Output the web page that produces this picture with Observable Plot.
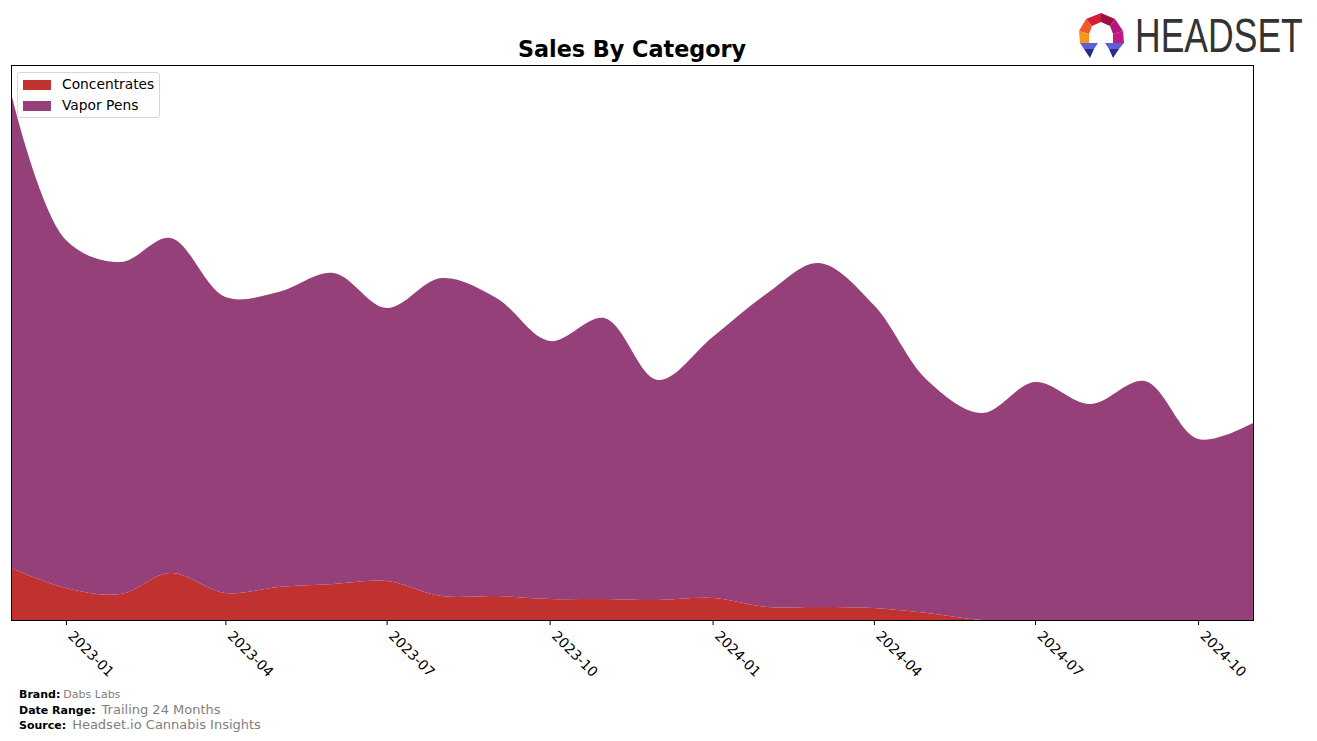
<!DOCTYPE html>
<html><head><meta charset="utf-8">
<script src="https://cdn.jsdelivr.net/npm/d3@7"></script>
<script src="https://cdn.jsdelivr.net/npm/@observablehq/plot@0.6"></script>
<style>
body{margin:0;background:#fff;font-family:"DejaVu Sans",sans-serif;}
#wrap{position:relative;width:1317px;height:741px;overflow:hidden;}
#chart{position:absolute;left:0;top:0;}
#title{position:absolute;left:0;width:1264px;top:36px;text-align:center;font-weight:bold;font-size:22.3px;color:#000;}
#legend{position:absolute;left:17px;top:72px;width:143px;height:46px;background:rgba(255,255,255,0.85);border:1px solid #d6d6d6;border-radius:3px;box-sizing:border-box;}
.li{position:absolute;left:5px;height:16px;font-size:13.8px;color:#000;}
.sw{position:absolute;left:0;top:2px;width:28px;height:10px;}
.lt{position:absolute;left:39px;top:-2px;white-space:nowrap;}
#footer{position:absolute;left:19px;top:688px;font-size:11px;line-height:14.5px;}
#footer b{color:#000;}
#footer span{color:#808080;margin-left:6px;}
#logo{position:absolute;left:1075px;top:10px;}
#logotext{position:absolute;left:1135px;top:10px;font-family:"Liberation Sans",Arial,sans-serif;font-size:48px;line-height:52px;color:#333;white-space:nowrap;transform:scaleX(0.74);transform-origin:0 0;}
</style></head><body>
<div id="wrap">
 <div id="chart"></div>
 <div id="title">Sales By Category</div>
 <div id="legend"></div>
 <div id="footer">
  <div><b>Brand:</b><span style="font-size:11px;margin-left:3px">Dabs Labs</span></div>
  <div><b>Date Range:</b><span style="font-size:13px">Trailing 24 Months</span></div>
  <div><b>Source:</b><span style="font-size:13px">Headset.io Cannabis Insights</span></div>
 </div>
 <svg id="logo" width="55" height="55" viewBox="0 0 55 55">
  <polygon points="11,9 26,3 26,12 17,16" fill="#d41e3a"/>
  <polygon points="26,3 40,9 35,16 26,12" fill="#a01040"/>
  <polygon points="4,21 11,9 17,16 14,24" fill="#f05a28"/>
  <polygon points="40,9 48,21 38,24 35,16" fill="#b5157a"/>
  <polygon points="4,21 14,24 14,33 5,33" fill="#f7941d"/>
  <polygon points="48,21 49,33 38,33 38,24" fill="#c2187f"/>
  <polygon points="5,33 23,33 19,39 9,39" fill="#5d5fd6"/>
  <polygon points="9,39 19,39 15,48" fill="#2b2b8c"/>
  <polygon points="30,33 49,33 44,39 34,39" fill="#5d5fd6"/>
  <polygon points="34,39 44,39 38,48" fill="#2b2b8c"/>
 </svg>
 <div id="logotext">HEADSET</div>
</div>
<script>
const months = ["2022-12","2023-01","2023-02","2023-03","2023-04","2023-05","2023-06","2023-07","2023-08","2023-09","2023-10","2023-11","2023-12","2024-01","2024-02","2024-03","2024-04","2024-05","2024-06","2024-07","2024-08","2024-09","2024-10","2024-11"];
const concentrates = [52, 32, 26, 47, 27, 33, 36, 39, 24, 24, 21, 21, 20, 22, 13, 13, 12, 7, 0, 0, 0, 0, 0, 0];
const vaporPens = [475, 348, 332, 335, 296, 295, 311, 273, 318, 298, 258, 281, 220, 261, 314, 344, 303, 233, 207, 238, 216, 239, 181, 197];
const categories = ["Concentrates", "Vapor Pens"];
const colors = ["#c0312f", "#964079"];
const tickMonths = ["2023-01","2023-04","2023-07","2023-10","2024-01","2024-04","2024-07","2024-10"];

const series = [concentrates, vaporPens];
const toDate = m => new Date(m + "-01T00:00:00Z");
const data = categories.flatMap((c, i) => months.map((m, j) => ({date: toDate(m), category: c, value: series[i][j]})));

const chart = Plot.plot({
  width: 1317, height: 741,
  marginLeft: 11, marginRight: 64, marginTop: 65, marginBottom: 121,
  x: {type: "utc", domain: [toDate(months[0]), toDate(months[months.length - 1])]},
  y: {domain: [0, 555], axis: null},
  color: {domain: categories, range: colors},
  style: {fontFamily: "DejaVu Sans", fontSize: "13.9px", color: "black", background: "transparent"},
  marks: [
    Plot.areaY(data, {x: "date", y: "value", fill: "category", order: categories, curve: "catmull-rom"}),
    Plot.axisX({ticks: tickMonths.map(toDate), tickFormat: () => "", tickSize: 5, label: null, stroke: "black", strokeOpacity: 1}),
    Plot.axisX({ticks: tickMonths.map(toDate), tickFormat: d3.utcFormat("%Y-%m"), tickRotate: 45, tickSize: 0, tickPadding: 9, dx: 4, dy: 4, label: null, fontSize: 13.9}),
    Plot.frame({stroke: "black", strokeWidth: 1})
  ]
});
document.getElementById("chart").appendChild(chart);

const legend = document.getElementById("legend");
categories.forEach((c, i) => {
  const row = document.createElement("div");
  row.className = "li";
  row.style.top = (5 + i * 21) + "px";
  row.innerHTML = `<div class="sw" style="background:${colors[i]}"></div><div class="lt">${c}</div>`;
  legend.appendChild(row);
});
</script>
</body></html>
